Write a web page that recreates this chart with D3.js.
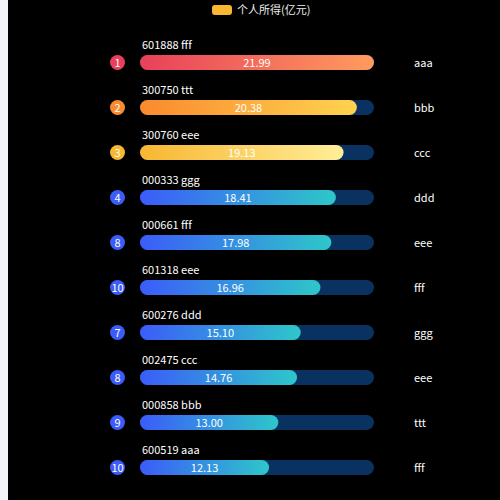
<!DOCTYPE html>
<html>
<head>
<meta charset="utf-8">
<script src="https://cdn.jsdelivr.net/npm/d3@7"></script>
<style>
  html, body { margin: 0; padding: 0; background: #f3f4f9; }
  svg { display: block; }
  text { font-family: "Noto Sans CJK SC", "Noto Sans", sans-serif; }
</style>
</head>
<body>
<script>
var ranks = [1, 2, 3, 4, 8, 10, 7, 8, 9, 10];
var names = ["601888 fff", "300750 ttt", "300760 eee", "000333 ggg", "000661 fff",
             "601318 eee", "600276 ddd", "002475 ccc", "000858 bbb", "600519 aaa"];
var values = [21.99, 20.38, 19.13, 18.41, 17.98, 16.96, 15.10, 14.76, 13.00, 12.13];
var tags = ["aaa", "bbb", "ccc", "ddd", "eee", "fff", "ggg", "eee", "ttt", "fff"];
var legendName = "个人所得(亿元)";

var width = 500, height = 500;

// colours for top three rows, the rest use blue
var gradStops = [
  ["#e8405a", "#ff9c5e"],
  ["#f98a2e", "#ffd34f"],
  ["#f7b731", "#ffee98"],
  ["#3b5cf9", "#2ec7c9"]
];
var dotColors = ["#e8405a", "#f98a2e", "#f7b731", "#3b5cf9"];

var svg = d3.select("body")
            .append("svg")
            .attr("width", width)
            .attr("height", height);

svg.append("rect")
   .attr("x", 8)
   .attr("y", 0)
   .attr("width", width - 8)
   .attr("height", height)
   .attr("fill", "#000");

var defs = svg.append("defs");
gradStops.forEach(function(c, i) {
  var g = defs.append("linearGradient")
              .attr("id", "grad" + i)
              .attr("x1", "0%").attr("x2", "100%")
              .attr("y1", "0%").attr("y2", "0%");
  g.append("stop").attr("offset", "0%").attr("stop-color", c[0]);
  g.append("stop").attr("offset", "100%").attr("stop-color", c[1]);
});

// legend
svg.append("rect")
   .attr("x", 212).attr("y", 5)
   .attr("width", 20).attr("height", 10)
   .attr("rx", 3)
   .attr("fill", "#f7b731");

svg.append("text")
   .attr("x", 237).attr("y", 14)
   .attr("fill", "#eee")
   .attr("font-size", 11)
   .text(legendName);

var idx = d3.range(values.length);

var y = d3.scaleBand()
          .domain(idx)
          .range([40, 490])
          .paddingInner(0);

var x = d3.scaleLinear()
          .domain([0, d3.max(values)])
          .range([140, 374]);

var barH = 15;
var colorIdx = function(i) { return Math.min(i, 3); };

var row = svg.selectAll("g.row")
             .data(idx)
             .enter()
             .append("g")
             .attr("class", "row")
             .attr("transform", function(i) { return "translate(0," + (y(i) + y.bandwidth() / 2 + 0) + ")"; });

// background track
row.append("rect")
   .attr("x", x(0))
   .attr("y", -barH / 2)
   .attr("width", x(d3.max(values)) - x(0))
   .attr("height", barH)
   .attr("rx", barH / 2)
   .attr("fill", "#0a3261");

// value bar
row.append("rect")
   .attr("x", x(0))
   .attr("y", -barH / 2)
   .attr("width", function(i) { return x(values[i]) - x(0); })
   .attr("height", barH)
   .attr("rx", barH / 2)
   .attr("fill", function(i) { return "url(#grad" + colorIdx(i) + ")"; });

row.append("text")
   .attr("x", function(i) { return (x(0) + x(values[i])) / 2; })
   .attr("y", 4)
   .attr("text-anchor", "middle")
   .attr("fill", "#fff")
   .attr("font-size", 11)
   .text(function(i) { return values[i].toFixed(2); });

// rank dot
row.append("circle")
   .attr("cx", 117.5)
   .attr("cy", 0)
   .attr("r", 7.5)
   .attr("fill", function(i) { return dotColors[colorIdx(i)]; });

row.append("text")
   .attr("x", 117.5)
   .attr("y", 4)
   .attr("text-anchor", "middle")
   .attr("fill", "#fff")
   .attr("font-size", 11)
   .text(function(i) { return ranks[i]; });

// name above bar
row.append("text")
   .attr("x", 142)
   .attr("y", -14)
   .attr("fill", "#fff")
   .attr("font-size", 11)
   .text(function(i) { return names[i]; });

// right label
row.append("text")
   .attr("x", 414)
   .attr("y", 4)
   .attr("fill", "#fff")
   .attr("font-size", 11)
   .text(function(i) { return tags[i]; });
</script>
</body>
</html>
